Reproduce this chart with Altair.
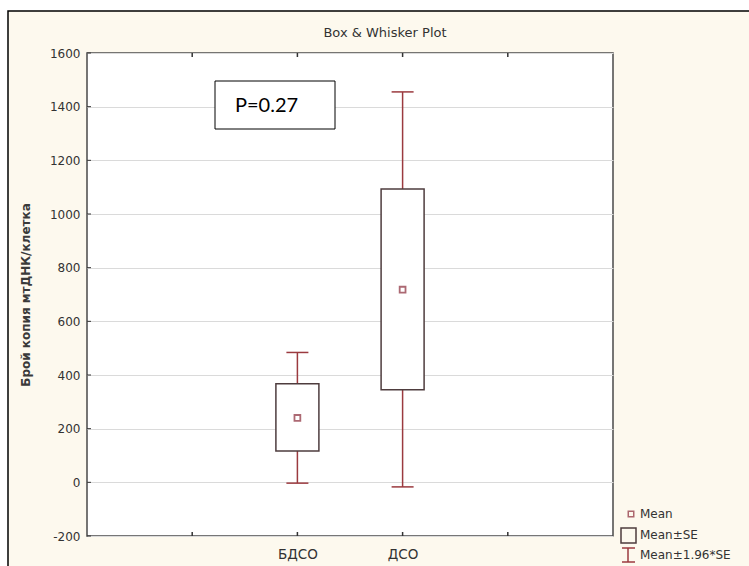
import altair as alt
import pandas as pd

# ---- data ----
categories = ["БДСО", "ДСО"]
means = [240, 718]
se_low = [117, 345]
se_high = [367, 1093]
ci_low = [-3, -17]
ci_high = [484, 1455]

y_ticks = [-200, 0, 200, 400, 600, 800, 1000, 1200, 1400, 1600]
x_slots = [1, 2, 3, 4]          # tick slots on the category axis
legend_labels = ["Mean", "Mean±SE", "Mean±1.96*SE"]
title_text = "Box & Whisker Plot"
y_title = "Брой копия мтДНК/клетка"
annotation = "P=0.27"

# ---- layout ----
W, H = 526, 483
PL, PT, PR, PB = 87, 53, 136, 30
FONT = "DejaVu Sans"
WHISK = "#9b3a3f"
BOXC = "#4e3c3e"
MEANC = "#8a2a38"
TXT = "#333333"

positions = [i + 2 for i in range(len(categories))]
df = pd.DataFrame({
    "cat": categories, "pos": positions, "mean": means,
    "se_low": se_low, "se_high": se_high,
    "ci_low": ci_low, "ci_high": ci_high,
})
ticks_df = pd.DataFrame({"v": y_ticks})
slots_df = pd.DataFrame({"s": x_slots})
one = pd.DataFrame({"k": [0]})

label_expr = " : ".join(
    [f"datum.value == {p} ? '{c}'" for p, c in zip(positions, categories)]
) + " : ''"

xscale = alt.Scale(domain=[0, 5], nice=False, zero=False)
yscale = alt.Scale(domain=[-200, 1600], nice=False, zero=False)

XAX = alt.Axis(
    values=x_slots, labelExpr=label_expr, grid=False, ticks=False, tickSize=0,
    domain=False, title=None, labelFont=FONT, labelFontSize=13.5,
    labelColor=TXT, labelPadding=11)
YAX = alt.Axis(
    values=y_ticks, labelExpr="'' + datum.value", grid=True,
    gridColor="#dadada", gridWidth=1,
    ticks=False, tickSize=0, domain=False, labelFont=FONT, labelFontSize=12,
    labelColor=TXT, labelPadding=7, title=y_title, titleFont=FONT,
    titleFontSize=12, titleFontWeight="bold", titleColor="#3a3a3a",
    titleX=-62, titleY=H / 2, titleAngle=270, titleAlign="center",
    titleBaseline="middle")


def X(field):
    return alt.X(field, scale=xscale, axis=XAX)


def Y(field):
    return alt.Y(field, scale=yscale, axis=YAX)


base = alt.Chart(df)

# decoration outside the frame
white_left = alt.Chart(one).mark_rect(fill="white").encode(
    x=alt.value(-PL), x2=alt.value(-79), y=alt.value(-PT), y2=alt.value(H + PB))
white_top = alt.Chart(one).mark_rect(fill="white").encode(
    x=alt.value(-PL), x2=alt.value(W + PR), y=alt.value(-PT), y2=alt.value(-42))
frame = alt.Chart(one).mark_rect(fill=None, stroke="black", strokeWidth=1.5).encode(
    x=alt.value(-79), x2=alt.value(W + PR + 20), y=alt.value(-42), y2=alt.value(H + PB + 20))

whiskers = base.mark_rule(color=WHISK, strokeWidth=1.5).encode(
    x=X("pos:Q"), y=Y("ci_low:Q"), y2="ci_high:Q")
cap_low = base.mark_rule(color=WHISK, strokeWidth=1.5, xOffset=-11, x2Offset=11).encode(
    x=X("pos:Q"), x2="pos:Q", y=Y("ci_low:Q"))
cap_high = base.mark_rule(color=WHISK, strokeWidth=1.5, xOffset=-11, x2Offset=11).encode(
    x=X("pos:Q"), x2="pos:Q", y=Y("ci_high:Q"))
boxes = base.mark_rect(fill="white", stroke=BOXC, strokeWidth=1.5,
                       xOffset=-21.5, x2Offset=21.5).encode(
    x=X("pos:Q"), x2="pos:Q", y=Y("se_low:Q"), y2="se_high:Q")
mean_pts = base.mark_square(size=34, filled=False, stroke=MEANC, strokeWidth=1.8).encode(
    x=X("pos:Q"), y=Y("mean:Q"))

# inward ticks
yt = alt.Chart(ticks_df).mark_rule(color="#333", strokeWidth=1).encode(
    x=alt.value(0), x2=alt.value(4), y=Y("v:Q"))
xt_bottom = alt.Chart(slots_df).mark_rule(color="#333", strokeWidth=1.5).encode(
    x=X("s:Q"), y=alt.value(H), y2=alt.value(H - 4))
xt_top = alt.Chart(slots_df).mark_rule(color="#333", strokeWidth=1.5).encode(
    x=X("s:Q"), y=alt.value(0), y2=alt.value(4))

# title
title = alt.Chart(one).mark_text(font=FONT, fontSize=13, color=TXT,
                                 align="center", baseline="middle").encode(
    x=alt.value(298), y=alt.value(-20), text=alt.value(title_text))

# P annotation
p_box = alt.Chart(one).mark_rect(fill="white", stroke="black", strokeWidth=1).encode(
    x=alt.value(128), x2=alt.value(248), y=alt.value(28), y2=alt.value(76))
p_txt = alt.Chart(one).mark_text(font="Lato", fontSize=20, color="black",
                                 align="left", baseline="middle").encode(
    x=alt.value(148), y=alt.value(53), text=alt.value(annotation))

# legend
lg_mean = alt.Chart(one).mark_square(size=30, filled=False, stroke=MEANC, strokeWidth=1.5).encode(
    x=alt.value(544), y=alt.value(461))
lg_box = alt.Chart(one).mark_rect(fill=None, stroke=BOXC, strokeWidth=1.5).encode(
    x=alt.value(534), x2=alt.value(549), y=alt.value(475), y2=alt.value(490))
lg_wv = alt.Chart(one).mark_rule(color=WHISK, strokeWidth=1.5).encode(
    x=alt.value(541), y=alt.value(495), y2=alt.value(509))
lg_wt = alt.Chart(one).mark_rule(color=WHISK, strokeWidth=1.5).encode(
    x=alt.value(535), x2=alt.value(548), y=alt.value(495))
lg_wb = alt.Chart(one).mark_rule(color=WHISK, strokeWidth=1.5).encode(
    x=alt.value(535), x2=alt.value(548), y=alt.value(509))
lg_texts = []
for lab, yy in zip(legend_labels, [461, 482, 502]):
    lg_texts.append(alt.Chart(pd.DataFrame({"t": [lab]})).mark_text(
        font=FONT, fontSize=12, color=TXT, align="left", baseline="middle").encode(
        x=alt.value(553), y=alt.value(yy), text="t:N"))

chart = alt.layer(
    white_left, white_top, frame,
    whiskers, cap_low, cap_high, boxes, mean_pts,
    yt, xt_bottom, xt_top, title, p_box, p_txt,
    lg_mean, lg_box, lg_wv, lg_wt, lg_wb, *lg_texts,
).properties(
    width=W, height=H,
    autosize=alt.AutoSizeParams(type="none"),
    padding={"left": PL, "top": PT, "right": PR, "bottom": PB},
).configure(background="#fdf9ee").configure_view(
    fill="white", stroke="#4a4a4a", strokeWidth=1.5)

chart.save("out.html", embed_options={"renderer": "svg", "actions": False})
